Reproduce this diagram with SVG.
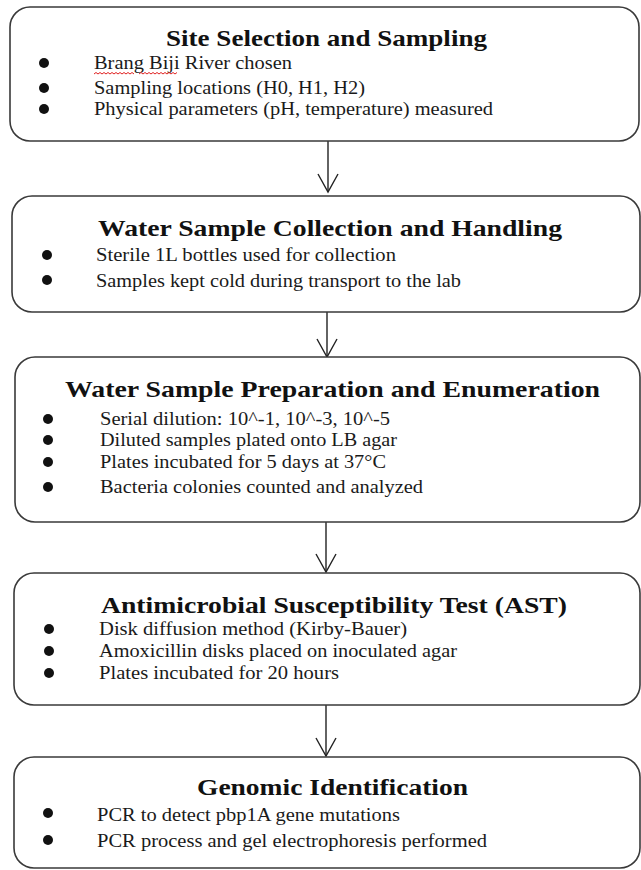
<svg xmlns="http://www.w3.org/2000/svg" width="641" height="870" viewBox="0 0 641 870">
  <defs>
    <style>
      .box { fill: #ffffff; stroke: #3a3a3a; stroke-width: 1.6; }
      .title { font-family: "Liberation Serif", "Times New Roman", serif; font-weight: bold; font-size: 24px; fill: #111; }
      .item { font-family: "Liberation Serif", "Times New Roman", serif; font-size: 18px; fill: #1a1a1a; }
      .bullet { fill: #111; }
      .conn { stroke: #222; stroke-width: 1.4; fill: none; }
      .squig { stroke: #e02020; stroke-width: 1; fill: none; }
    </style>
    <marker id="vhead" markerUnits="userSpaceOnUse" markerWidth="26" markerHeight="26" viewBox="-22 -13 26 26" refX="0" refY="0" orient="auto">
      <path d="M-18,-10 L0,0 L-18,10" fill="none" stroke="#222" stroke-width="1.4"/>
    </marker>
  </defs>
  <rect width="641" height="870" fill="#ffffff"/>

  <g id="connectors">
    <line class="conn" x1="328" y1="141" x2="328" y2="192" marker-end="url(#vhead)"/>
    <line class="conn" x1="327" y1="312" x2="327" y2="357" marker-end="url(#vhead)"/>
    <line class="conn" x1="326" y1="522" x2="326" y2="572" marker-end="url(#vhead)"/>
    <line class="conn" x1="326" y1="705" x2="326" y2="756" marker-end="url(#vhead)"/>
  </g>

  <g id="node-site-selection">
    <rect class="box" x="10" y="7" width="629" height="134" rx="20" ry="20"/>
    <text class="title" x="166" y="46" textLength="321" lengthAdjust="spacingAndGlyphs">Site Selection and Sampling</text>
    <circle class="bullet" cx="44" cy="63" r="5"/>
    <circle class="bullet" cx="44" cy="88" r="5"/>
    <circle class="bullet" cx="44" cy="109" r="5"/>
    <text class="item" x="94" y="69" textLength="198" lengthAdjust="spacingAndGlyphs">Brang Biji River chosen</text>
    <path class="squig" d="M94,74 l2,-1.5 l2,1.5 l2,-1.5 l2,1.5 l2,-1.5 l2,1.5 l2,-1.5 l2,1.5 l2,-1.5 l2,1.5 l2,-1.5 l2,1.5 l2,-1.5 l2,1.5 l2,-1.5 l2,1.5 l2,-1.5 l2,1.5 l2,-1.5 l2,1.5"/>
    <path class="squig" d="M139,74 l2,-1.5 l2,1.5 l2,-1.5 l2,1.5 l2,-1.5 l2,1.5 l2,-1.5 l2,1.5 l2,-1.5 l2,1.5 l2,-1.5 l2,1.5 l2,-1.5 l2,1.5 l2,-1.5 l2,1.5 l2,-1.5 l2,1.5 l2,-1.5"/>
    <text class="item" x="94" y="94" textLength="271" lengthAdjust="spacingAndGlyphs">Sampling locations (H0, H1, H2)</text>
    <text class="item" x="94" y="115" textLength="399" lengthAdjust="spacingAndGlyphs">Physical parameters (pH, temperature) measured</text>
  </g>

  <g id="node-collection">
    <rect class="box" x="12" y="196" width="628" height="116" rx="20" ry="20"/>
    <text class="title" x="98" y="236" textLength="464" lengthAdjust="spacingAndGlyphs">Water Sample Collection and Handling</text>
    <circle class="bullet" cx="47" cy="255" r="5"/>
    <circle class="bullet" cx="47" cy="280" r="5"/>
    <text class="item" x="96" y="261" textLength="300" lengthAdjust="spacingAndGlyphs">Sterile 1L bottles used for collection</text>
    <text class="item" x="96" y="287" textLength="365" lengthAdjust="spacingAndGlyphs">Samples kept cold during transport to the lab</text>
  </g>

  <g id="node-preparation">
    <rect class="box" x="15" y="357" width="625" height="165" rx="20" ry="20"/>
    <text class="title" x="65" y="397" textLength="535" lengthAdjust="spacingAndGlyphs">Water Sample Preparation and Enumeration</text>
    <circle class="bullet" cx="48" cy="419" r="5"/>
    <circle class="bullet" cx="48" cy="440" r="5"/>
    <circle class="bullet" cx="48" cy="462" r="5"/>
    <circle class="bullet" cx="48" cy="487" r="5"/>
    <text class="item" x="100" y="425" textLength="290" lengthAdjust="spacingAndGlyphs">Serial dilution: 10^-1, 10^-3, 10^-5</text>
    <text class="item" x="100" y="446" textLength="297" lengthAdjust="spacingAndGlyphs">Diluted samples plated onto LB agar</text>
    <text class="item" x="100" y="468" textLength="286" lengthAdjust="spacingAndGlyphs">Plates incubated for 5 days at 37°C</text>
    <text class="item" x="100" y="493" textLength="323" lengthAdjust="spacingAndGlyphs">Bacteria colonies counted and analyzed</text>
  </g>

  <g id="node-ast">
    <rect class="box" x="14" y="573" width="626" height="132" rx="20" ry="20"/>
    <text class="title" x="101" y="613" textLength="466" lengthAdjust="spacingAndGlyphs">Antimicrobial Susceptibility Test (AST)</text>
    <circle class="bullet" cx="49" cy="629" r="5"/>
    <circle class="bullet" cx="49" cy="651" r="5"/>
    <circle class="bullet" cx="49" cy="673" r="5"/>
    <text class="item" x="99" y="635" textLength="308" lengthAdjust="spacingAndGlyphs">Disk diffusion method (Kirby-Bauer)</text>
    <text class="item" x="99" y="657" textLength="358" lengthAdjust="spacingAndGlyphs">Amoxicillin disks placed on inoculated agar</text>
    <text class="item" x="99" y="679" textLength="240" lengthAdjust="spacingAndGlyphs">Plates incubated for 20 hours</text>
  </g>

  <g id="node-genomic">
    <rect class="box" x="14" y="757" width="626" height="111" rx="20" ry="20"/>
    <text class="title" x="197" y="795" textLength="271" lengthAdjust="spacingAndGlyphs">Genomic Identification</text>
    <circle class="bullet" cx="48" cy="813" r="5"/>
    <circle class="bullet" cx="48" cy="840" r="5"/>
    <text class="item" x="97" y="821" textLength="303" lengthAdjust="spacingAndGlyphs">PCR to detect pbp1A gene mutations</text>
    <text class="item" x="97" y="847" textLength="390" lengthAdjust="spacingAndGlyphs">PCR process and gel electrophoresis performed</text>
  </g>
</svg>
